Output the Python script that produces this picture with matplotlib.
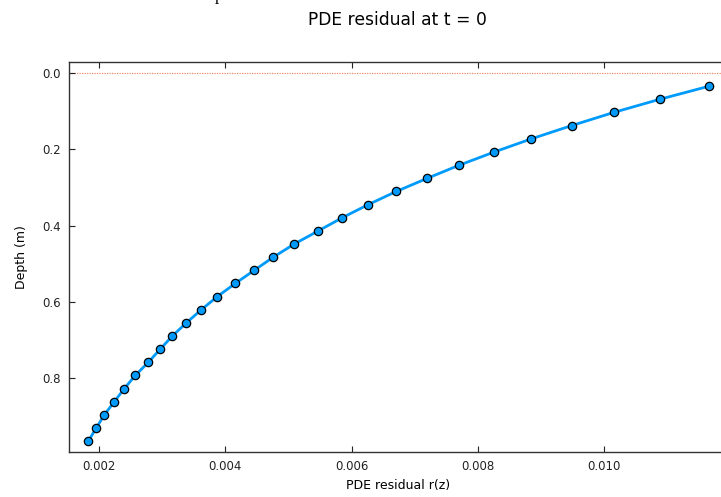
import matplotlib
matplotlib.use("Agg")
import matplotlib.pyplot as plt
import numpy as np

# depth of the interior grid points (m)
depth = [i / 29 for i in range(1, 29)]

# PDE residual r(z)
residual = [0.011660, 0.010876, 0.010147, 0.009482, 0.008848, 0.008262,
            0.007708, 0.007201, 0.006710, 0.006266, 0.005854, 0.005474,
            0.005094, 0.004761, 0.004460, 0.004159, 0.003874, 0.003621,
            0.003383, 0.003161, 0.002971, 0.002781, 0.002575, 0.002401,
            0.002242, 0.002084, 0.001957, 0.001830]

xticks = [0.002, 0.004, 0.006, 0.008, 0.010]
yticks = [0.0, 0.2, 0.4, 0.6, 0.8]

fig = plt.figure(figsize=(7.21, 4.97), dpi=100)
ax = fig.add_axes([69 / 721, 1 - 452 / 497, (728 - 69) / 721, 390 / 497])

ax.axhline(0.0, color="#E36F47", lw=0.9, ls=(0, (1, 1)), alpha=0.8, zorder=1)
ax.plot(residual, depth, color="#009AFA", lw=2, marker="o", ms=6,
        mfc="#009AFA", mec="black", mew=0.9, zorder=3)

ax.set_xlim(0.001525, 0.01196)
ax.set_ylim(0.994, -0.029)
ax.set_xticks(xticks)
ax.set_xticklabels(["%.3f" % v for v in xticks])
ax.set_yticks(yticks)
ax.set_yticklabels(["%.1f" % v for v in yticks])
ax.tick_params(direction="in", length=4, width=0.8, top=True, right=True,
               labelsize=8.5, colors="#222222", pad=6)
for s in ax.spines.values():
    s.set_color("#333333")
    s.set_linewidth(1)

ax.set_xlabel("PDE residual r(z)", fontsize=9, labelpad=4)
ax.set_ylabel("Depth (m)", fontsize=9, labelpad=10)
fig.text((69 + 725) / 2 / 721, 1 - 20 / 497, "PDE residual at t = 0",
         fontsize=12.3, ha="center", va="center")
fig.text(219 / 721, 1.0, "p", fontsize=12, family="Liberation Serif",
         ha="center", va="baseline")

fig.savefig("out.png", dpi=100)
